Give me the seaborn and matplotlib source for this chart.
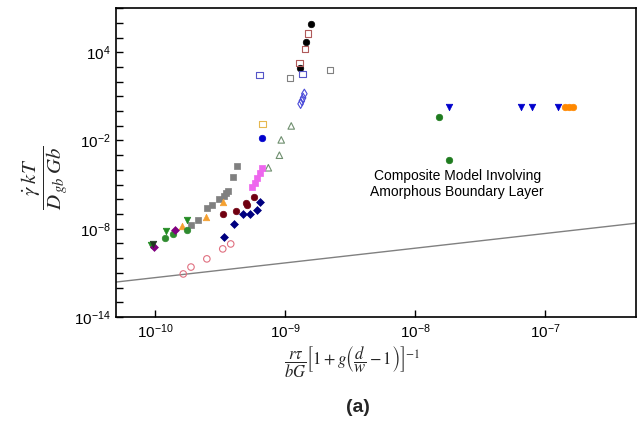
import matplotlib
matplotlib.use("Agg")
import matplotlib.pyplot as plt
import seaborn as sns
import numpy as np

# ---------------- data ----------------
black_x = [1.58e-9, 1.45e-9, 1.30e-9]
black_y = [8.5e5, 5.1e4, 870]
rose_sq_x = [1.50e-9, 1.42e-9, 1.28e-9]
rose_sq_y = [1.8e5, 1.7e4, 1900]
blue_sq_x = [6.34e-10, 1.35e-9]
blue_sq_y = [290, 340]
gray_osq_x = [2.21e-9, 1.09e-9]
gray_osq_y = [630, 180]
blue_dia_x = [1.40e-9, 1.37e-9, 1.34e-9, 1.31e-9]
blue_dia_y = [15, 7.9, 4.9, 3.1]
yellow_sq_x = [6.67e-10]
yellow_sq_y = [0.135]
gray_tri_x = [1.11e-9, 9.3e-10, 9.0e-10, 7.4e-10]
gray_tri_y = [0.098, 0.011, 1.0e-3, 1.4e-4]
blue_dot_x = [6.56e-10]
blue_dot_y = [0.015]
gray_fsq_x = [4.23e-10, 3.94e-10, 3.61e-10, 3.48e-10, 3.36e-10, 3.08e-10, 2.72e-10, 2.49e-10, 2.13e-10, 1.88e-10]
gray_fsq_y = [1.9e-4, 3.3e-5, 3.7e-6, 2.8e-6, 1.7e-6, 1.07e-6, 4.2e-7, 2.6e-7, 4.0e-8, 1.8e-8]
mag_sq_x = [6.56e-10, 6.34e-10, 6.01e-10, 5.80e-10, 5.50e-10]
mag_sq_y = [1.4e-4, 6.3e-5, 2.9e-5, 1.3e-5, 6.9e-6]
orange_tri_x = [3.30e-10, 2.45e-10, 1.61e-10]
orange_tri_y = [6.6e-7, 6.3e-8, 1.55e-8]
dred_x = [5.70e-10, 4.95e-10, 5.04e-10, 4.15e-10, 3.30e-10]
dred_y = [1.4e-6, 5.8e-7, 4.2e-7, 1.6e-7, 1.03e-7]
navy_x = [6.34e-10, 6.01e-10, 5.31e-10, 4.70e-10, 4.01e-10, 3.36e-10]
navy_y = [6.6e-7, 1.9e-7, 1.03e-7, 1.03e-7, 2.1e-8, 2.8e-9]
green_tri_x = [1.75e-10, 1.21e-10, 9.3e-11]
green_tri_y = [4.0e-8, 7.1e-9, 8.0e-10]
green_dot_x = [1.75e-10, 1.37e-10, 1.19e-10]
green_dot_y = [8.3e-9, 4.5e-9, 2.3e-9]
purple_x = [1.42e-10, 9.8e-11]
purple_y = [8.3e-9, 5.7e-10]
dark_tri_x = [9.6e-11]
dark_tri_y = [9.3e-10]
pink_x = [3.80e-10, 3.30e-10, 2.49e-10, 1.88e-10, 1.64e-10]
pink_y = [9.3e-10, 4.3e-10, 9.0e-11, 2.5e-11, 8.5e-12]
blue_vtri_x = [1.82e-8, 6.44e-8, 7.96e-8, 1.26e-7]
blue_vtri_y = [1.9, 1.9, 1.9, 1.9]
orange_dot_x = [1.42e-7, 1.52e-7, 1.64e-7]
orange_dot_y = [1.9, 1.9, 1.9]
green_r_x = [1.52e-8, 1.82e-8]
green_r_y = [0.41, 4.8e-4]

model_x = [5e-11, 5e-7]
model_y = [2.4e-12, 2.4e-8]

xticks = [1e-10, 1e-9, 1e-8, 1e-7]
xtick_labels = [r'$\mathdefault{10^{-10}}$', r'$\mathdefault{10^{-9}}$',
                r'$\mathdefault{10^{-8}}$', r'$\mathdefault{10^{-7}}$']
yticks = [10.0 ** k for k in range(-14, 8)]
ylabeled = {-14: r'$\mathdefault{10^{-14}}$', -8: r'$\mathdefault{10^{-8}}$',
            -2: r'$\mathdefault{10^{-2}}$', 4: r'$\mathdefault{10^{4}}$'}
ytick_labels = [ylabeled.get(k, '') for k in range(-14, 8)]

annotation = "Composite Model Involving\nAmorphous Boundary Layer"

# ---------------- style ----------------
sns.set_theme(style="ticks")
plt.rcParams['font.family'] = ['Liberation Sans', 'DejaVu Sans']
plt.rcParams['mathtext.fontset'] = 'stix'
plt.rcParams['xtick.direction'] = 'in'
plt.rcParams['ytick.direction'] = 'in'

fig = plt.figure(figsize=(6.42, 4.25), dpi=100)
ax = fig.add_axes([0.181, 0.254, 0.810, 0.727])
ax.set_xscale('log')
ax.set_yscale('log')

series = [
    (black_x, black_y, 'o', 'black', True),
    (rose_sq_x, rose_sq_y, 's', '#b05a5a', False),
    (blue_sq_x, blue_sq_y, 's', '#5555c8', False),
    (gray_osq_x, gray_osq_y, 's', '#808080', False),
    (blue_dia_x, blue_dia_y, 'd', '#4a4ad8', False),
    (yellow_sq_x, yellow_sq_y, 's', '#e6b850', False),
    (gray_tri_x, gray_tri_y, '^', '#6f8f6f', False),
    (blue_dot_x, blue_dot_y, 'o', '#0000cc', True),
    (gray_fsq_x, gray_fsq_y, 's', '#808080', True),
    (mag_sq_x, mag_sq_y, 's', '#ee66ee', True),
    (orange_tri_x, orange_tri_y, '^', '#f5a030', True),
    (dred_x, dred_y, 'o', '#700010', True),
    (navy_x, navy_y, 'D', '#000080', True),
    (green_tri_x, green_tri_y, 'v', '#228b22', True),
    (green_dot_x, green_dot_y, 'o', '#2e8b2e', True),
    (purple_x, purple_y, 'D', '#800080', True),
    (dark_tri_x, dark_tri_y, 'v', '#203a20', True),
    (pink_x, pink_y, 'o', '#e07080', False),
    (blue_vtri_x, blue_vtri_y, 'v', '#0000cc', True),
    (orange_dot_x, orange_dot_y, 'o', '#ff8800', True),
    (green_r_x, green_r_y, 'o', '#1e7b1e', True),
]

for xs, ys, m, c, filled in series:
    size = 16 if m == 'D' else 22
    if filled:
        sns.scatterplot(x=xs, y=ys, marker=m, color=c, edgecolor=c, s=size,
                        linewidth=0.5, ax=ax, legend=False, zorder=3)
    else:
        sns.scatterplot(x=xs, y=ys, marker=m, color=c, facecolor='none',
                        edgecolor=c, s=size, linewidth=0.8, ax=ax,
                        legend=False, zorder=3)

sns.lineplot(x=model_x, y=model_y, color='#808080', linewidth=1.0, ax=ax,
             legend=False, zorder=2)

ax.set_xlim(5e-11, 5e-7)
ax.set_ylim(1e-14, 1e7)
ax.set_xticks(xticks)
ax.set_xticklabels(xtick_labels)
ax.xaxis.set_minor_locator(matplotlib.ticker.NullLocator())
ax.set_yticks(yticks)
ax.set_yticklabels(ytick_labels)
ax.yaxis.set_minor_locator(matplotlib.ticker.NullLocator())
ax.tick_params(axis='both', which='major', direction='in', length=5,
               width=1, labelsize=11, colors='black', pad=4)
for sp in ax.spines.values():
    sp.set_visible(True)
    sp.set_color('black')
    sp.set_linewidth(1.2)

ax.text(2.1e-8, 1.1e-5, annotation, ha='center', va='center', fontsize=10,
        color='black', linespacing=1.1)

ax.set_ylabel(r'$\dfrac{\dot{\gamma}\;kT}{D_{\,gb}\;Gb}$', fontsize=15)
ax.yaxis.set_label_coords(-0.088, 0.45)
ax.set_xlabel(r'$\dfrac{r\tau}{bG}\left[1+g\left(\dfrac{d}{w}-1\right)\right]^{-1}$',
              fontsize=12)
ax.xaxis.set_label_coords(0.454, -0.09)

fig.text(0.558, 0.042, '(a)', ha='center', va='center', fontsize=14,
         fontweight='bold')

fig.savefig('out.png', dpi=100)
